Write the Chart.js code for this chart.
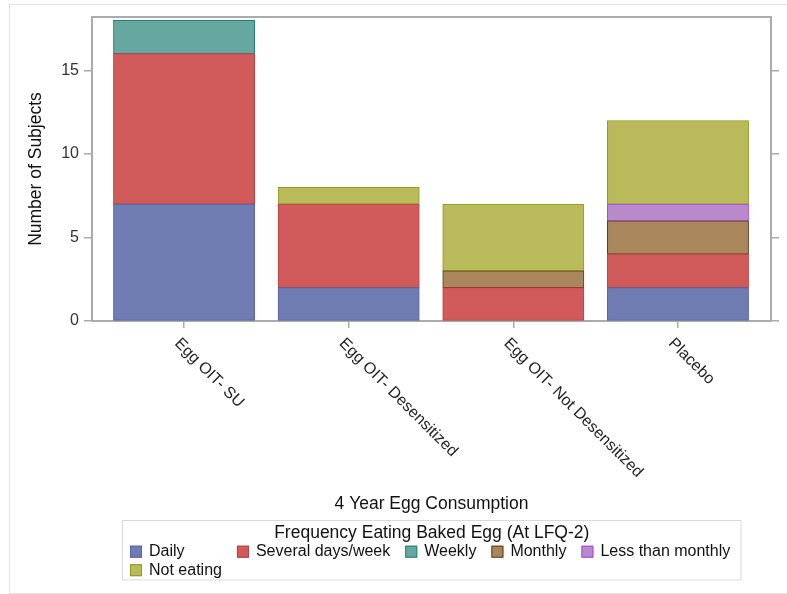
<!DOCTYPE html>
<html>
<head>
<meta charset="utf-8">
<script src="https://cdn.jsdelivr.net/npm/chart.js@4"></script>
<style>
  html, body { margin: 0; padding: 0; background: #ffffff; }
  #wrap { position: relative; width: 787px; height: 594px; }
</style>
</head>
<body>
<div id="wrap"><canvas id="c" width="787" height="594"></canvas></div>
<script>
// Groups along the horizontal axis
const categories = ['Egg OIT- SU', 'Egg OIT- Desensitized', 'Egg OIT- Not Desensitized', 'Placebo'];

// Number of subjects per baked-egg frequency (null = no subjects)
const seriesNames = ['Daily', 'Several days/week', 'Weekly', 'Monthly', 'Less than monthly', 'Not eating'];
const daily           = [7, 2, null, 2];
const severalDaysWeek = [9, 5, 2, 2];
const weekly          = [2, null, null, null];
const monthly         = [null, null, 1, 2];
const lessThanMonthly = [null, null, null, 1];
const notEating       = [null, 1, 4, 5];

const yTicks = [0, 5, 10, 15];
const yMax = 18.2;

const xTitle = '4 Year Egg Consumption';
const yTitle = 'Number of Subjects';
const legendTitle = 'Frequency Eating Baked Egg (At LFQ-2)';

const fills   = ['#6F7DB2', '#D15B5B', '#66A7A0', '#A9865B', '#B88ACC', '#B9BB5A'];
const strokes = ['#5564A3', '#B94040', '#21807A', '#5E3C14', '#A848DC', '#8E9A22'];

const FONT = "'Liberation Sans', Arial, sans-serif";
const xMin = -0.559, xMax = 3.565;

const values = [daily, severalDaysWeek, weekly, monthly, lessThanMonthly, notEating];
const datasets = values.map((vals, k) => ({
  label: seriesNames[k],
  data: vals.map((v, i) => ({ x: i, y: v })),
  backgroundColor: fills[k],
  borderColor: strokes[k],
  borderWidth: 1,
  borderSkipped: false,
  inflateAmount: 0.4,
  categoryPercentage: 1.0,
  barPercentage: 0.857
}));

const axisGray = '#ABABAB';

// Outer frame, rotated group labels, axis title and the boxed legend
const decorations = {
  id: 'decorations',
  beforeDraw(chart) {
    const ctx = chart.ctx;
    ctx.save();
    ctx.strokeStyle = '#E2E2E2';
    ctx.lineWidth = 1;
    ctx.strokeRect(9.5, 4.5, 800, 589);
    ctx.restore();
  },
  afterDraw(chart) {
    const ctx = chart.ctx;
    const area = chart.chartArea;
    const xs = chart.scales.x;
    ctx.save();
    ctx.fillStyle = '#222';
    ctx.font = '16px ' + FONT;
    ctx.textAlign = 'left';
    ctx.textBaseline = 'middle';
    categories.forEach((name, i) => {
      const px = xs.getPixelForValue(i);
      ctx.save();
      ctx.translate(px - 7, area.bottom + 20);
      ctx.rotate(Math.PI / 4);
      ctx.fillText(name, 0, 0);
      ctx.restore();
    });

    ctx.font = '17.5px ' + FONT;
    ctx.textAlign = 'center';
    ctx.fillStyle = '#111';
    ctx.fillText(xTitle, (area.left + area.right) / 2, 504);

    // legend box
    const lx = 122.5, ly = 520.5, lw = 618.5, lh = 59.5;
    ctx.strokeStyle = '#D9D9D9';
    ctx.lineWidth = 1;
    ctx.strokeRect(lx, ly, lw, lh);
    ctx.fillText(legendTitle, lx + lw / 2, 533);

    ctx.font = '16px ' + FONT;
    ctx.textAlign = 'left';
    const cols = 5;
    const colW = [];
    seriesNames.forEach((n, k) => {
      const c = k % cols;
      colW[c] = Math.max(colW[c] || 0, ctx.measureText(n).width);
    });
    const colX = [130];
    for (let c = 1; c < cols; c++) colX[c] = colX[c - 1] + 12 + 7 + colW[c - 1] + 15;
    seriesNames.forEach((n, k) => {
      const c = k % cols, r = Math.floor(k / cols);
      const cy = 551.7 + r * 18.5;
      const bx = colX[c];
      ctx.fillStyle = fills[k];
      ctx.fillRect(bx, cy - 6, 12, 12);
      ctx.strokeStyle = strokes[k];
      ctx.strokeRect(bx + 0.5, cy - 5.5, 11, 11);
      ctx.fillStyle = '#111';
      ctx.fillText(n, bx + 19, cy);
    });
    ctx.restore();
  }
};

new Chart(document.getElementById('c'), {
  type: 'bar',
  data: { datasets },
  plugins: [decorations],
  options: {
    responsive: false,
    animation: false,
    devicePixelRatio: 1,
    layout: { padding: { top: 17, left: 0, right: 0, bottom: 0 } },
    plugins: { legend: { display: false }, tooltip: { enabled: false } },
    scales: {
      x: {
        type: 'linear',
        position: 'bottom',
        stacked: true,
        offset: false,
        min: xMin, max: xMax,
        afterBuildTicks: s => { s.ticks = categories.map((_, i) => ({ value: i })); },
        afterFit: s => { s.height = 273; },
        ticks: { display: false },
        grid: { offset: false, drawOnChartArea: false, drawTicks: true, tickLength: 7, color: axisGray, lineWidth: 1.5 },
        border: { display: true, color: axisGray, width: 2 }
      },
      x2: {
        type: 'linear',
        position: 'top',
        offset: false,
        min: xMin, max: xMax,
        afterFit: s => { s.height = 0; },
        ticks: { display: false },
        grid: { display: false, offset: false },
        border: { display: true, color: axisGray, width: 2 }
      },
      y: {
        type: 'linear',
        position: 'left',
        stacked: true,
        min: 0, max: yMax,
        afterBuildTicks: s => { s.ticks = yTicks.map(v => ({ value: v })); },
        afterFit: s => { s.width = 92; },
        ticks: { color: '#333', font: { family: FONT, size: 16 }, padding: 5 },
        grid: { drawOnChartArea: false, drawTicks: true, tickLength: 8, color: axisGray, lineWidth: 1.5 },
        border: { display: true, color: axisGray, width: 2 },
        title: { display: true, text: yTitle, color: '#111', font: { family: FONT, size: 17.5 }, padding: { top: 26, bottom: 0 } }
      },
      y2: {
        type: 'linear',
        position: 'right',
        min: 0, max: yMax,
        afterBuildTicks: s => { s.ticks = yTicks.map(v => ({ value: v })); },
        afterFit: s => { s.width = 16; },
        ticks: { display: false },
        grid: { drawOnChartArea: false, drawTicks: true, tickLength: 8, color: axisGray, lineWidth: 1.5 },
        border: { display: true, color: axisGray, width: 2 }
      }
    }
  }
});
</script>
</body>
</html>
